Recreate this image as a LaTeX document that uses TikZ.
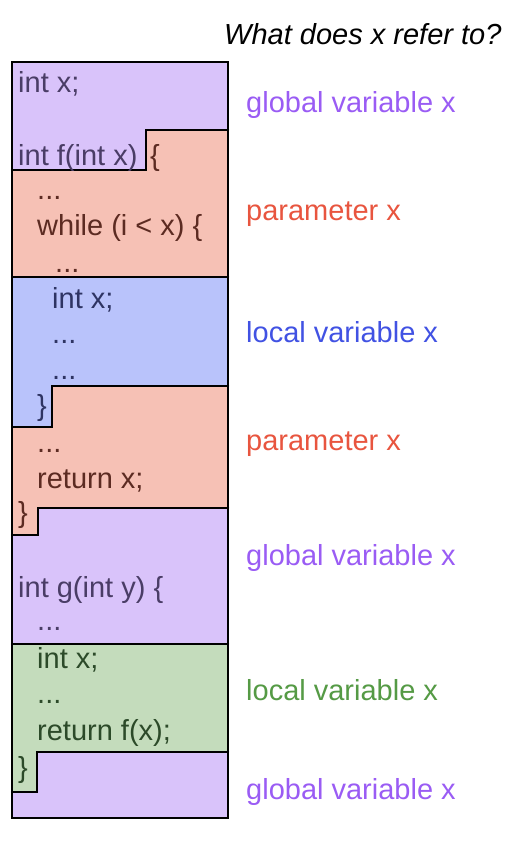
\documentclass[tikz,border=0pt]{standalone}
\usepackage{fontspec}
\setmainfont{Liberation Sans}
\definecolor{gfill}{HTML}{D9C3FA}
\definecolor{pfill}{HTML}{F6C1B5}
\definecolor{bfill}{HTML}{B9C3FB}
\definecolor{lfill}{HTML}{C4DCBC}
\definecolor{gtext}{HTML}{4A3D66}
\definecolor{ptext}{HTML}{5C2B22}
\definecolor{btext}{HTML}{2E3463}
\definecolor{ltext}{HTML}{2C4A29}
\definecolor{gvar}{HTML}{9A5CF4}
\definecolor{pvar}{HTML}{E8553F}
\definecolor{bvar}{HTML}{4152E3}
\definecolor{lvar}{HTML}{559A45}
\newcommand{\trid}{.\kern0pt.\kern0pt.}
\tikzset{
	code/.style={anchor=base west,inner sep=0pt},
	lbl/.style={anchor=base west,inner sep=0pt},
	edge/.style={line width=2.5pt,line join=miter}
}
\begin{document}
\begin{tikzpicture}[x=1pt,y=-1pt,cap=round,every node/.style={font=\fontsize{29}{34}\selectfont}]
			\useasboundingbox (0,0) rectangle (510,862);
			% scopes, top to bottom
			\fill[gfill] (12,62) -- (228,62) -- (228,130) -- (146,130) -- (146,170) -- (12,170) -- cycle;
			\fill[pfill] (12,170) -- (146,170) -- (146,130) -- (228,130) -- (228,277) -- (12,277) -- cycle;
			\fill[bfill] (12,277) -- (228,277) -- (228,386) -- (52,386) -- (52,427) -- (12,427) -- cycle;
			\fill[pfill] (12,427) -- (52,427) -- (52,386) -- (228,386) -- (228,508) -- (38,508) -- (38,535) -- (12,535) -- cycle;
			\fill[gfill] (12,535) -- (38,535) -- (38,508) -- (228,508) -- (228,644) -- (12,644) -- cycle;
			\fill[lfill] (12,644) -- (228,644) -- (228,752) -- (37,752) -- (37,792) -- (12,792) -- cycle;
			\fill[gfill] (12,792) -- (37,792) -- (37,752) -- (228,752) -- (228,818) -- (12,818) -- cycle;
			% borders
			\draw[edge] (12,170) -- (146,170) -- (146,130) -- (228,130);
			\draw[edge] (12,277) -- (228,277);
			\draw[edge] (12,427) -- (52,427) -- (52,386) -- (228,386);
			\draw[edge] (12,535) -- (38,535) -- (38,508) -- (228,508);
			\draw[edge] (12,644) -- (228,644);
			\draw[edge] (12,792) -- (37,792) -- (37,752) -- (228,752);
			\draw[edge] (12,62) rectangle (228,818);
			% code
			\foreach \x/\y/\t/\c [count=\i] in {18/92/int x;/gtext, 18/165/int f(int x)/gtext, 150/165/\{/ptext,
				37/199/\trid/ptext, 37/235/while (i < x) \{/ptext, 55/272/\trid/ptext,
				52/308/int x;/btext, 52/343/\trid/btext, 52/379/\trid/btext, 37/415/\}/btext,
				37/452/\trid/ptext, 37/488/return x;/ptext, 18/522/\}/ptext,
				18/597/int g(int y) \{/gtext, 37/630/\trid/gtext,
				37/668/int x;/ltext, 37/703/\trid/ltext, 37/740/return f(x);/ltext, 18/777/\}/ltext}
			\node[code,text=\c] (code\i) at (\x,\y) {\t};
			% what x refers to
			\foreach \y/\t/\c [count=\i] in {112/global variable x/gvar, 220/parameter x/pvar,
				342/local variable x/bvar, 450/parameter x/pvar, 565/global variable x/gvar,
				700/local variable x/lvar, 799/global variable x/gvar}
			\node[lbl,text=\c] (ref\i) at (246,\y) {\t};
			\node[lbl,font=\fontsize{29}{34}\selectfont\itshape] (title) at (224,44) {What does x refer to?};
		\end{tikzpicture}
\end{document}
